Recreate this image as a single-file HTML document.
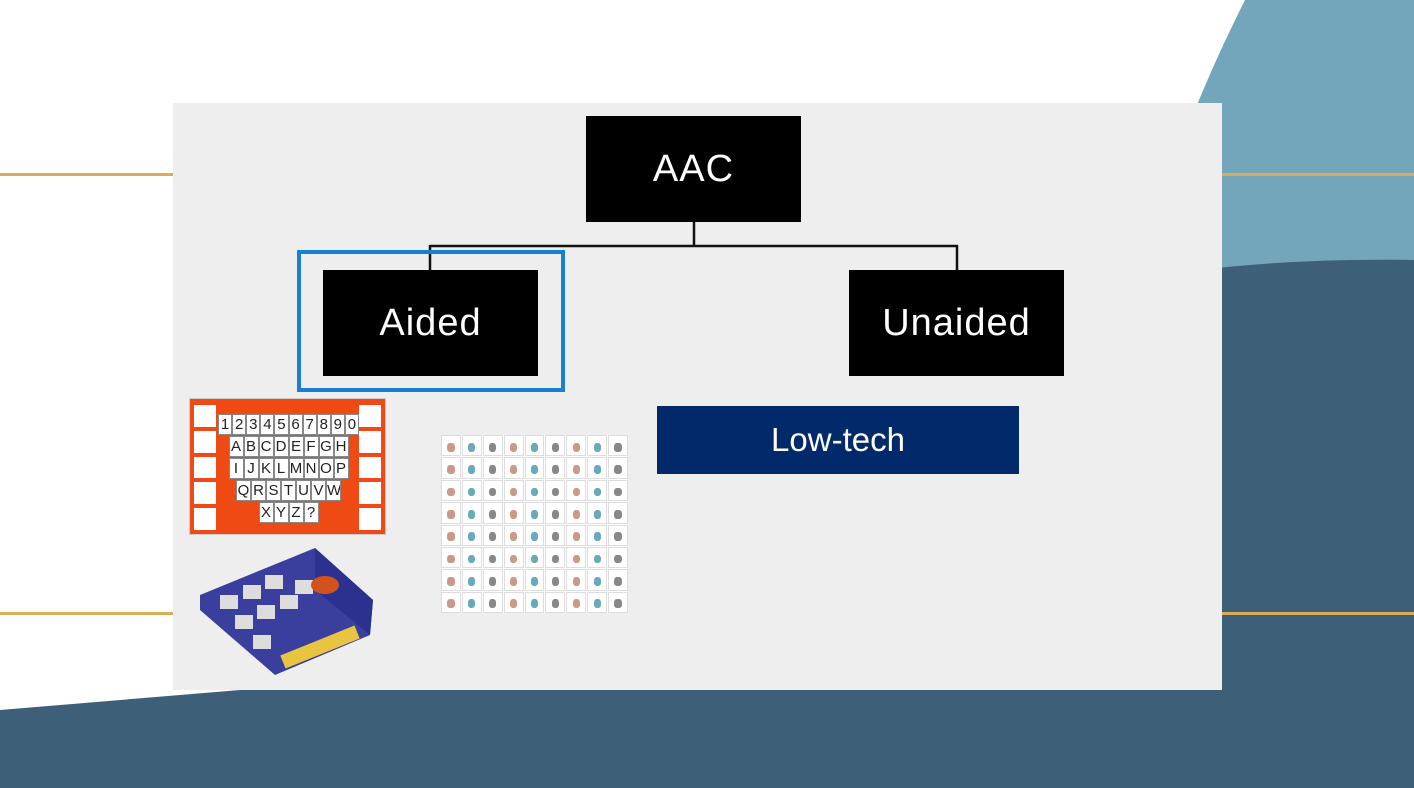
<!DOCTYPE html>
<html><head><meta charset="utf-8"><style>
body{margin:0;width:1414px;height:788px;overflow:hidden;background:#fff;position:relative;font-family:"Liberation Sans",sans-serif}
.a{position:absolute}
.box{position:absolute;background:#000;color:#fff;display:flex;align-items:center;justify-content:center;font-size:38px;letter-spacing:1px}
.r{height:22px;display:flex;justify-content:center;align-items:center}
.k{background:#fff;border:1px solid #888;font-size:15px;color:#222;width:13px;height:19px;line-height:19px;text-align:center;overflow:hidden}
.g{position:absolute;left:441px;top:435px;width:187px;height:178px;background:#fff;display:grid;grid-template-columns:repeat(9,1fr);grid-template-rows:repeat(8,1fr);gap:1px}
.g div{border:1px solid #ddd;position:relative}
.g div::after{content:"";position:absolute;left:30%;top:35%;width:40%;height:45%;border-radius:40%}
</style></head><body>
<svg class="a" style="left:0;top:0" width="1414" height="788">
<path d="M1245 0 Q1215 60 1195 110 L1195 270 L1414 270 L1414 0 Z" fill="#73a6bb"/>
<path d="M1200 270 Q1300 258 1414 260 L1414 788 L0 788 L0 710 Q120 700 240 690 L1200 690 Z" fill="#3d5f78"/>
<rect x="0" y="173" width="173" height="3" fill="#d9ad5a"/>
<rect x="1222" y="173" width="192" height="3" fill="#d9ad5a"/>
<rect x="0" y="612" width="173" height="3" fill="#d9ad5a"/>
<rect x="1222" y="612" width="192" height="3" fill="#d9ad5a"/>
<rect x="173" y="103" width="1049" height="587" fill="#eeeeef"/>
<path d="M694 222 V246 M430 246 H958 M430 245 V270 M957 245 V270" stroke="#111" stroke-width="2.5" fill="none"/>
<rect x="299" y="252" width="264" height="138" fill="none" stroke="#1a7fd0" stroke-width="4"/>
</svg>
<div class="box" style="left:586px;top:116px;width:215px;height:106px">AAC</div>
<div class="box" style="left:323px;top:270px;width:215px;height:106px">Aided</div>
<div class="box" style="left:849px;top:270px;width:215px;height:106px">Unaided</div>
<div class="box" style="left:657px;top:406px;width:362px;height:68px;background:#022a6b;font-size:33px;letter-spacing:0">Low-tech</div>
<div class="a" style="left:189px;top:398px;width:197px;height:137px;background:#f04a14;border:1px solid #ccc;box-sizing:border-box">
 <div class="a" style="left:4px;top:6px;width:22px;height:125px;display:flex;flex-direction:column;gap:4px"><div style="background:#fff;flex:1"></div><div style="background:#fff;flex:1"></div><div style="background:#fff;flex:1"></div><div style="background:#fff;flex:1"></div><div style="background:#fff;flex:1"></div></div>
 <div class="a" style="right:4px;top:6px;width:22px;height:125px;display:flex;flex-direction:column;gap:4px"><div style="background:#fff;flex:1"></div><div style="background:#fff;flex:1"></div><div style="background:#fff;flex:1"></div><div style="background:#fff;flex:1"></div><div style="background:#fff;flex:1"></div></div>
 <div class="a" style="left:28px;top:14px;width:141px">
 <div class="r"><span class="k">1</span><span class="k">2</span><span class="k">3</span><span class="k">4</span><span class="k">5</span><span class="k">6</span><span class="k">7</span><span class="k">8</span><span class="k">9</span><span class="k">0</span></div>
 <div class="r"><span class="k">A</span><span class="k">B</span><span class="k">C</span><span class="k">D</span><span class="k">E</span><span class="k">F</span><span class="k">G</span><span class="k">H</span></div>
 <div class="r"><span class="k">I</span><span class="k">J</span><span class="k">K</span><span class="k">L</span><span class="k">M</span><span class="k">N</span><span class="k">O</span><span class="k">P</span></div>
 <div class="r"><span class="k">Q</span><span class="k">R</span><span class="k">S</span><span class="k">T</span><span class="k">U</span><span class="k">V</span><span class="k">W</span></div>
 <div class="r"><span class="k">X</span><span class="k">Y</span><span class="k">Z</span><span class="k">?</span></div></div>
</div>
<svg class="a" style="left:195px;top:540px" width="185" height="140">
<polygon points="5,55 120,8 178,60 175,95 80,135 5,70" fill="#3a3f9e"/>
<polygon points="120,8 178,60 175,95 120,50" fill="#2c3190"/>
<g fill="#ddd"><rect x="25" y="55" width="18" height="14"/><rect x="48" y="45" width="18" height="14"/><rect x="70" y="35" width="18" height="14"/><rect x="40" y="75" width="18" height="14"/><rect x="62" y="65" width="18" height="14"/><rect x="85" y="55" width="18" height="14"/><rect x="58" y="95" width="18" height="14"/><rect x="100" y="40" width="18" height="14"/></g>
<rect x="85" y="100" width="80" height="14" fill="#e8c440" transform="rotate(-22 125 107)"/>
<ellipse cx="130" cy="45" rx="14" ry="9" fill="#d2521e"/>
</svg>
<div class="g">
<div></div><div></div><div></div><div></div><div></div><div></div><div></div><div></div><div></div>
<div></div><div></div><div></div><div></div><div></div><div></div><div></div><div></div><div></div>
<div></div><div></div><div></div><div></div><div></div><div></div><div></div><div></div><div></div>
<div></div><div></div><div></div><div></div><div></div><div></div><div></div><div></div><div></div>
<div></div><div></div><div></div><div></div><div></div><div></div><div></div><div></div><div></div>
<div></div><div></div><div></div><div></div><div></div><div></div><div></div><div></div><div></div>
<div></div><div></div><div></div><div></div><div></div><div></div><div></div><div></div><div></div>
<div></div><div></div><div></div><div></div><div></div><div></div><div></div><div></div><div></div>
</div>
<style>.g div:nth-child(3n)::after{background:#888}.g div:nth-child(3n+1)::after{background:#c98}.g div:nth-child(3n+2)::after{background:#6ab}</style>
</body></html>
